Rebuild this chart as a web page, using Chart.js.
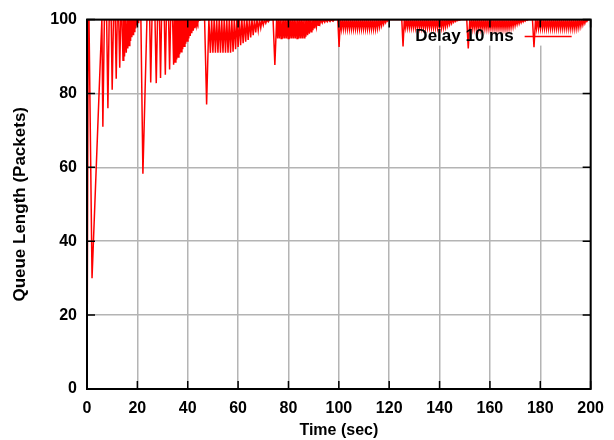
<!DOCTYPE html>
<html><head><meta charset="utf-8">
<script src="https://cdn.jsdelivr.net/npm/chart.js@4"></script>
<style>html,body{margin:0;padding:0;background:#fff}#wrap{width:614px;height:440px}</style>
</head><body><div id="wrap"><canvas id="c" width="614" height="440"></canvas></div>
<script>
// ---- data (time in seconds, queue length in packets) ----
const xTickValues = [0,20,40,60,80,100,120,140,160,180,200];
const yTickValues = [0,20,40,60,80,100];
const seriesLabel = 'Delay 10 ms';
const xTitle = 'Time (sec)';
const yTitle = 'Queue Length (Packets)';

const phase0 = [[0,0],[0.5,100],[0.8,100],[2.0,30],[5.9,100],[6.3,71],[6.9,100],[7.8,100],[8.3,76],[8.8,100],[9.6,100],[10.0,81],[10.5,100],[11.2,100],[11.6,84],[12.0,100],[12.6,100],[13.0,87],[13.4,100],[13.9,100],[14.3,89],[14.6,100],[14.9,90],[15.2,100],[15.6,91],[15.9,100],[16.2,92.2],[16.4,100],[16.7,93],[17.0,100],[17.3,94.2],[17.5,100],[17.8,95.2],[18.0,100],[18.3,96],[18.5,100],[18.8,96.8],[19.0,100],[19.3,97.6],[19.5,100],[19.8,98.4],[20.0,100],[20.3,99.2],[20.5,100]];

const phase1 = [[21.4,100],[22.2,58.3],[23.8,100],[24.9,100],[25.3,83],[25.8,100],[27.0,100],[27.5,82.8],[28.0,100],[28.8,100],[29.2,84.2],[29.6,100],[30.7,100],[31.1,85.1],[31.5,100],[32.4,100],[32.8,86.5],[33.2,100],[34.0,100],[34.4,87.8],[34.7,100],[35.0,88.5],[35.3,100],[35.6,89.2],[35.9,100],[36.2,89.9],[36.5,100],[36.8,90.6],[37.1,100],[37.4,91.3],[37.7,100],[38.0,92.0],[38.3,100],[38.6,92.8],[38.9,100],[39.2,93.5],[39.5,100],[39.8,94.2],[40.1,100],[40.4,94.9],[40.7,100],[41.0,95.6],[41.3,100],[41.6,96.3],[41.9,100],[42.2,97.0],[42.5,100],[42.8,97.7],[43.1,100],[43.4,98.4],[43.7,100],[44.0,99.1],[44.3,100],[44.6,99.8],[44.8,100]];

const phase2 = [[46.7,100],[47.5,77],[48.4,100],[49.0,91],[49.5,100],[50.0,91],[50.5,100],[51.0,91],[51.5,100],[52.0,91],[52.5,100],[53.0,91],[53.5,100],[54.0,91],[54.5,100],[55.0,91],[55.5,100],[56.0,91],[56.5,100],[57.0,91],[57.5,100],[58.0,91.3],[58.5,100],[59.0,92],[59.5,100],[60.0,92.6],[60.5,100],[61.0,93.1],[61.5,100],[62.0,93.6],[62.5,100],[63.0,94.0],[63.5,100],[64.0,94.5],[64.5,100],[65.0,95.2],[65.5,100],[66.0,95.8],[66.5,100],[67.0,96.5],[67.5,100],[68.0,97.1],[68.5,100],[69.0,97.8],[69.5,100],[70.0,98.5],[70.5,100],[71.0,99.0],[71.5,100],[72.0,99.4],[72.5,100]];

const phase3 = [[73.9,100],[74.6,87.7],[75.3,100],[75.7,94.9],[76.0,100],[76.4,94.9],[76.7,100],[77.1,94.9],[77.4,100],[77.8,94.9],[78.1,100],[78.5,94.9],[78.8,100],[79.2,94.9],[79.5,100],[79.9,94.9],[80.2,100],[80.6,94.9],[80.9,100],[81.3,94.9],[81.6,100],[82.0,94.9],[82.3,100],[82.7,94.9],[83.0,100],[83.4,94.9],[83.7,100],[84.1,94.9],[84.4,100],[84.8,94.9],[85.1,100],[85.5,94.9],[85.8,100],[86.2,95.1],[86.5,100],[86.9,95.4],[87.2,100],[87.6,95.8],[87.9,100],[88.3,96.2],[88.6,100],[89.0,96.7],[89.3,100],[89.7,97.1],[90.0,100],[90.4,97.6],[90.7,100],[91.1,98.1],[91.4,100],[91.8,98.5],[92.1,100],[92.5,98.9],[92.8,100],[93.4,99.1],[93.8,100],[94.4,99.3],[94.8,100],[95.4,99.4],[95.8,100],[96.5,99.5],[97.0,100],[97.7,99.6],[98.2,100]];

const phase4 = [[99.6,100],[100.1,92.6],[100.6,100],[101.0,97.5],[101.4,100],[101.8,97.5],[102.2,100],[102.6,97.5],[103.0,100],[103.4,97.5],[103.8,100],[104.2,97.5],[104.6,100],[105.0,97.5],[105.4,100],[105.8,97.5],[106.2,100],[106.6,97.5],[107.0,100],[107.4,97.5],[107.8,100],[108.2,97.5],[108.6,100],[109.0,97.5],[109.4,100],[109.8,97.5],[110.2,100],[110.6,97.5],[111.0,100],[111.4,97.5],[111.8,100],[112.2,97.5],[112.6,100],[113.0,97.5],[113.4,100],[113.8,97.5],[114.2,100],[114.6,97.5],[115.0,100],[115.4,97.7],[115.8,100],[116.2,98.0],[116.6,100],[117.0,98.4],[117.4,100],[117.8,98.8],[118.2,100],[118.6,99.2],[119.0,100],[119.4,99.6],[119.8,100]];

const phase5 = [[125.0,100],[125.5,92.7],[126.0,100],[126.4,97.8],[126.8,100],[127.2,97.8],[127.6,100],[128.0,97.8],[128.4,100],[128.8,97.8],[129.2,100],[129.6,97.8],[130.0,100],[130.4,97.8],[130.8,100],[131.2,97.8],[131.6,100],[132.0,97.8],[132.4,100],[132.8,97.8],[133.2,100],[133.6,97.8],[134.0,100],[134.4,97.8],[134.8,100],[135.2,97.8],[135.6,100],[136.0,97.8],[136.4,100],[136.8,97.8],[137.2,100],[137.6,97.8],[138.0,100],[138.4,97.8],[138.8,100],[139.2,97.8],[139.6,100],[140.0,97.8],[140.4,100],[140.8,97.8],[141.2,100],[141.6,97.9],[142.0,100],[142.4,98.1],[142.8,100],[143.2,98.4],[143.6,100],[144.0,98.7],[144.4,100],[144.8,99.0],[145.2,100],[145.6,99.3],[146.0,100],[146.4,99.5],[146.8,100],[147.2,99.7],[147.6,100],[148.0,99.85],[148.4,100]];

const phase6 = [[150.8,100],[151.4,92.2],[152.0,100],[152.4,97.6],[152.8,100],[153.2,97.6],[153.6,100],[154.0,97.6],[154.4,100],[154.8,97.6],[155.2,100],[155.6,97.6],[156.0,100],[156.4,97.6],[156.8,100],[157.2,97.6],[157.6,100],[158.0,97.6],[158.4,100],[158.8,97.6],[159.2,100],[159.6,97.6],[160.0,100],[160.4,97.6],[160.8,100],[161.2,97.6],[161.6,100],[162.0,97.6],[162.4,100],[162.8,97.6],[163.2,100],[163.6,97.6],[164.0,100],[164.4,97.6],[164.8,100],[165.2,97.6],[165.6,100],[166.0,97.6],[166.4,100],[166.8,97.6],[167.2,100],[167.6,97.7],[168.0,100],[168.4,97.9],[168.8,100],[169.2,98.1],[169.6,100],[170.0,98.4],[170.4,100],[170.8,98.7],[171.2,100],[171.6,98.9],[172.0,100],[172.4,99.2],[172.8,100],[173.2,99.4],[173.6,100],[174.0,99.6],[174.4,100],[174.8,99.8],[175.2,100]];

const phase7 = [[176.9,100],[177.5,92.5],[178.1,100],[178.5,97.6],[178.9,100],[179.3,97.6],[179.7,100],[180.1,97.6],[180.5,100],[180.9,97.6],[181.3,100],[181.7,97.6],[182.1,100],[182.5,97.6],[182.9,100],[183.3,97.6],[183.7,100],[184.1,97.6],[184.5,100],[184.9,97.6],[185.3,100],[185.7,97.6],[186.1,100],[186.5,97.6],[186.9,100],[187.3,97.6],[187.7,100],[188.1,97.6],[188.5,100],[188.9,97.6],[189.3,100],[189.7,97.6],[190.1,100],[190.5,97.6],[190.9,100],[191.3,97.6],[191.7,100],[192.1,97.6],[192.5,100],[192.9,97.6],[193.3,100],[193.7,97.6],[194.1,100],[194.5,97.7],[194.9,100],[195.3,97.9],[195.7,100],[196.1,98.2],[196.5,100],[196.9,98.6],[197.3,100],[197.7,99.0],[198.1,100],[198.5,99.5],[198.9,100],[200,100]];

const points = [].concat(phase0, phase1, phase2, phase3, phase4, phase5, phase6, phase7)
  .map(([t, q]) => ({x: t, y: q}));

// ---- styling ----
const FONT = "'Liberation Sans', Arial, Helvetica, sans-serif";
const LINE_COLOR = '#ff0000';
const GRID_COLOR = '#b4b4b4';
const KEY_FONT = 'bold 17px ' + FONT;

const frame = {
  id: 'gnuplotFrame',
  beforeDatasetsDraw(chart) {
    const {ctx, chartArea: a} = chart;
    ctx.save();
    ctx.font = KEY_FONT;
    const tw = ctx.measureText(seriesLabel).width;
    const sampleL = a.right - 66;
    const textR = sampleL - 11;
    ctx.fillStyle = '#fff';
    ctx.fillRect(textR - tw - 8, a.top + 1, a.right - (textR - tw - 8) - 1, 25);
    ctx.restore();
  },
  afterDatasetsDraw(chart) {
    const {ctx, chartArea: a, scales} = chart;
    ctx.save();
    ctx.strokeStyle = '#000';
    ctx.lineWidth = 1.5;
    ctx.beginPath();
    xTickValues.forEach(v => {
      const px = scales.x.getPixelForValue(v);
      ctx.moveTo(px, a.bottom); ctx.lineTo(px, a.bottom - 8);
      ctx.moveTo(px, a.top); ctx.lineTo(px, a.top + 8);
    });
    yTickValues.forEach(v => {
      const py = scales.y.getPixelForValue(v);
      ctx.moveTo(a.left, py); ctx.lineTo(a.left + 8, py);
      ctx.moveTo(a.right, py); ctx.lineTo(a.right - 8, py);
    });
    ctx.stroke();
    ctx.lineWidth = 2;
    ctx.strokeRect(a.left, a.top, a.right - a.left, a.bottom - a.top);
    const sampleL = a.right - 66, sampleR = a.right - 19, ky = a.top + 17;
    ctx.font = KEY_FONT;
    ctx.fillStyle = '#000';
    ctx.textAlign = 'right';
    ctx.textBaseline = 'middle';
    ctx.fillText(seriesLabel, sampleL - 11, ky);
    ctx.strokeStyle = LINE_COLOR;
    ctx.lineWidth = 1.5;
    ctx.beginPath();
    ctx.moveTo(sampleL, ky); ctx.lineTo(sampleR, ky);
    ctx.stroke();
    ctx.restore();
  }
};

const tickFont = {family: FONT, size: 16, weight: 'bold'};
const yTitleFont = {family: FONT, size: 17, weight: 'bold'};

new Chart(document.getElementById('c'), {
  type: 'line',
  data: {
    datasets: [{
      label: seriesLabel,
      data: points,
      borderColor: LINE_COLOR,
      borderWidth: 1.5,
      pointRadius: 0,
      fill: false,
      tension: 0
    }]
  },
  options: {
    responsive: false,
    animation: false,
    devicePixelRatio: 1,
    layout: {padding: {top: 16, right: 23, left: 0, bottom: 0}},
    plugins: {legend: {display: false}, tooltip: {enabled: false}},
    scales: {
      x: {
        type: 'linear', min: 0, max: 200,
        afterBuildTicks: s => { s.ticks = xTickValues.map(v => ({value: v})); },
        ticks: {font: tickFont, color: '#000', padding: 10, maxRotation: 0, autoSkip: false},
        grid: {color: GRID_COLOR, lineWidth: 1.5, drawTicks: false},
        border: {display: false},
        title: {display: true, text: xTitle, color: '#000', font: tickFont, padding: {top: 0, bottom: 0}},
        afterFit: s => { s.height = 51; }
      },
      y: {
        type: 'linear', min: 0, max: 100,
        afterBuildTicks: s => { s.ticks = yTickValues.map(v => ({value: v})); },
        ticks: {font: tickFont, color: '#000', padding: 10},
        grid: {color: GRID_COLOR, lineWidth: 1.5, drawTicks: false},
        border: {display: false},
        title: {display: true, text: yTitle, color: '#000', font: yTitleFont, padding: {top: 10, bottom: 0}},
        afterFit: s => { s.width = 87; }
      }
    }
  },
  plugins: [frame]
});
</script>
</body></html>
